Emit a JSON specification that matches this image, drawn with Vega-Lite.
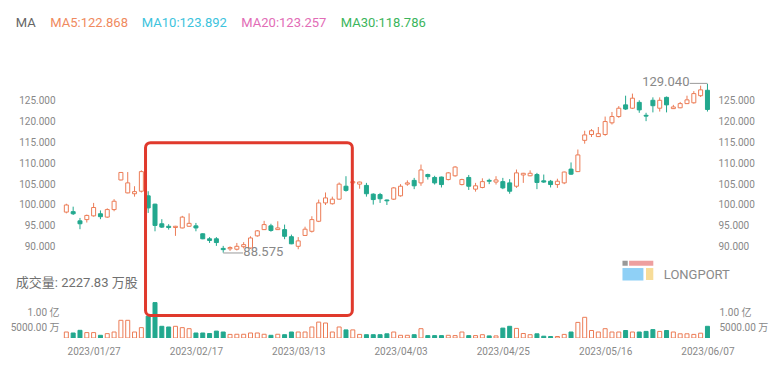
{
"$schema": "https://vega.github.io/schema/vega-lite/v6.json",
"width": 655, "height": 298,
"autosize": {"type": "none"},
"padding": {"left": 61, "top": 40, "right": 64, "bottom": 31},
"background": "#ffffff",
"config": {"view": {"stroke": null}, "font": "Roboto, Noto Sans CJK SC", "axis": {"labelColor": "#888888", "labelFontSize": 10, "grid": false, "domain": false, "ticks": false, "tickSize": 0, "title": null, "labelOverlap": false, "labelFlush": false}},
"datasets": {"k": [
{"i":0,"d":"2023-01-23","o":98.3,"h":100.3,"l":98.0,"c":100.0,"v":20000000},
{"i":1,"d":"2023-01-24","o":98.4,"h":99.6,"l":97.6,"c":97.9,"v":16700000},
{"i":2,"d":"2023-01-25","o":96.2,"h":96.9,"l":94.2,"c":95.5,"v":25600000},
{"i":3,"d":"2023-01-26","o":96.5,"h":97.7,"l":95.8,"c":97.5,"v":18000000},
{"i":4,"d":"2023-01-27","o":97.4,"h":100.5,"l":97.2,"c":99.4,"v":18000000},
{"i":5,"d":"2023-01-30","o":97.9,"h":98.7,"l":96.6,"c":97.2,"v":9000000},
{"i":6,"d":"2023-01-31","o":97.1,"h":99.2,"l":96.9,"c":98.9,"v":14500000},
{"i":7,"d":"2023-02-01","o":98.9,"h":101.4,"l":98.5,"c":100.9,"v":20000000},
{"i":8,"d":"2023-02-02","o":106.0,"h":107.9,"l":105.9,"c":107.8,"v":59000000},
{"i":9,"d":"2023-02-03","o":102.9,"h":107.9,"l":102.8,"c":105.3,"v":59000000},
{"i":10,"d":"2023-02-06","o":102.7,"h":104.5,"l":102.0,"c":103.2,"v":20000000},
{"i":11,"d":"2023-02-07","o":103.3,"h":108.3,"l":103.0,"c":108.0,"v":34500000},
{"i":12,"d":"2023-02-08","o":102.2,"h":103.3,"l":98.1,"c":99.3,"v":73000000},
{"i":13,"d":"2023-02-09","o":100.2,"h":100.3,"l":93.7,"c":95.1,"v":118000000},
{"i":14,"d":"2023-02-10","o":95.5,"h":96.6,"l":94.5,"c":94.7,"v":39000000},
{"i":15,"d":"2023-02-13","o":94.9,"h":95.4,"l":94.1,"c":94.6,"v":36700000},
{"i":16,"d":"2023-02-14","o":94.6,"h":95.0,"l":92.6,"c":94.9,"v":39000000},
{"i":17,"d":"2023-02-15","o":94.5,"h":97.4,"l":94.4,"c":97.1,"v":34500000},
{"i":18,"d":"2023-02-16","o":94.9,"h":98.0,"l":94.8,"c":95.6,"v":31000000},
{"i":19,"d":"2023-02-17","o":95.0,"h":95.7,"l":93.7,"c":94.5,"v":16700000},
{"i":20,"d":"2023-02-21","o":93.1,"h":93.2,"l":91.8,"c":91.9,"v":16700000},
{"i":21,"d":"2023-02-22","o":91.9,"h":92.3,"l":90.9,"c":91.5,"v":15000000},
{"i":22,"d":"2023-02-23","o":91.9,"h":92.3,"l":90.2,"c":91.0,"v":23000000},
{"i":23,"d":"2023-02-24","o":89.6,"h":90.2,"l":88.575,"c":89.3,"v":20000000},
{"i":24,"d":"2023-02-27","o":89.5,"h":90.1,"l":89.0,"c":89.8,"v":12000000},
{"i":25,"d":"2023-02-28","o":89.4,"h":90.9,"l":89.1,"c":90.1,"v":12500000},
{"i":26,"d":"2023-03-01","o":90.0,"h":91.1,"l":89.6,"c":90.5,"v":12500000},
{"i":27,"d":"2023-03-02","o":89.7,"h":92.5,"l":89.5,"c":92.1,"v":16700000},
{"i":28,"d":"2023-03-03","o":92.6,"h":94.0,"l":92.4,"c":93.8,"v":16700000},
{"i":29,"d":"2023-03-06","o":94.1,"h":96.2,"l":94.0,"c":95.3,"v":12500000},
{"i":30,"d":"2023-03-07","o":95.0,"h":95.5,"l":93.6,"c":93.9,"v":9000000},
{"i":31,"d":"2023-03-08","o":94.1,"h":96.1,"l":94.0,"c":94.5,"v":12500000},
{"i":32,"d":"2023-03-09","o":94.1,"h":95.3,"l":91.8,"c":92.5,"v":11000000},
{"i":33,"d":"2023-03-10","o":92.4,"h":92.9,"l":90.6,"c":90.7,"v":20000000},
{"i":34,"d":"2023-03-13","o":90.1,"h":92.3,"l":89.4,"c":91.4,"v":20000000},
{"i":35,"d":"2023-03-14","o":92.7,"h":94.8,"l":92.6,"c":94.2,"v":20000000},
{"i":36,"d":"2023-03-15","o":93.7,"h":97.3,"l":93.4,"c":96.5,"v":36700000},
{"i":37,"d":"2023-03-16","o":96.1,"h":101.3,"l":95.9,"c":100.5,"v":53000000},
{"i":38,"d":"2023-03-17","o":100.5,"h":103.0,"l":100.0,"c":101.7,"v":50000000},
{"i":39,"d":"2023-03-20","o":100.3,"h":102.0,"l":100.1,"c":101.4,"v":20000000},
{"i":40,"d":"2023-03-21","o":101.4,"h":105.4,"l":101.3,"c":105.0,"v":36700000},
{"i":41,"d":"2023-03-22","o":104.5,"h":106.9,"l":103.2,"c":103.5,"v":27000000},
{"i":42,"d":"2023-03-23","o":105.3,"h":106.0,"l":105.0,"c":105.6,"v":27000000},
{"i":43,"d":"2023-03-24","o":105.0,"h":105.6,"l":103.9,"c":105.5,"v":12000000},
{"i":44,"d":"2023-03-27","o":104.7,"h":105.3,"l":102.0,"c":102.7,"v":11000000},
{"i":45,"d":"2023-03-28","o":102.6,"h":102.8,"l":100.1,"c":101.3,"v":11000000},
{"i":46,"d":"2023-03-29","o":102.5,"h":102.9,"l":100.5,"c":101.5,"v":11000000},
{"i":47,"d":"2023-03-30","o":101.2,"h":101.3,"l":100.0,"c":101.0,"v":14000000},
{"i":48,"d":"2023-03-31","o":101.4,"h":104.3,"l":101.2,"c":104.1,"v":20000000},
{"i":49,"d":"2023-04-03","o":102.2,"h":105.0,"l":102.0,"c":104.5,"v":9000000},
{"i":50,"d":"2023-04-04","o":105.0,"h":105.9,"l":104.6,"c":105.3,"v":9000000},
{"i":51,"d":"2023-04-05","o":105.9,"h":106.5,"l":103.8,"c":104.6,"v":11000000},
{"i":52,"d":"2023-04-06","o":105.3,"h":109.7,"l":104.6,"c":108.4,"v":31000000},
{"i":53,"d":"2023-04-10","o":107.3,"h":107.5,"l":106.1,"c":106.8,"v":8000000},
{"i":54,"d":"2023-04-11","o":106.6,"h":107.0,"l":104.9,"c":105.3,"v":8000000},
{"i":55,"d":"2023-04-12","o":106.7,"h":106.8,"l":104.2,"c":104.9,"v":8000000},
{"i":56,"d":"2023-04-13","o":106.1,"h":107.9,"l":105.9,"c":107.7,"v":9000000},
{"i":57,"d":"2023-04-14","o":107.0,"h":109.3,"l":106.8,"c":109.1,"v":8000000},
{"i":58,"d":"2023-04-17","o":104.9,"h":106.3,"l":104.7,"c":106.1,"v":20000000},
{"i":59,"d":"2023-04-18","o":106.6,"h":107.2,"l":103.6,"c":104.5,"v":8000000},
{"i":60,"d":"2023-04-19","o":103.8,"h":105.3,"l":103.2,"c":104.6,"v":8000000},
{"i":61,"d":"2023-04-20","o":104.2,"h":106.4,"l":104.0,"c":105.6,"v":11000000},
{"i":62,"d":"2023-04-21","o":105.9,"h":106.3,"l":105.0,"c":105.7,"v":7000000},
{"i":63,"d":"2023-04-24","o":105.5,"h":106.9,"l":104.9,"c":106.0,"v":7000000},
{"i":64,"d":"2023-04-25","o":105.6,"h":106.5,"l":103.8,"c":104.1,"v":33000000},
{"i":65,"d":"2023-04-26","o":105.3,"h":106.2,"l":102.7,"c":103.3,"v":39000000},
{"i":66,"d":"2023-04-27","o":104.5,"h":108.5,"l":104.1,"c":107.7,"v":32000000},
{"i":67,"d":"2023-04-28","o":107.2,"h":107.7,"l":105.3,"c":107.6,"v":15000000},
{"i":68,"d":"2023-05-01","o":107.0,"h":108.3,"l":106.9,"c":107.6,"v":11000000},
{"i":69,"d":"2023-05-02","o":107.3,"h":107.7,"l":103.8,"c":105.4,"v":14000000},
{"i":70,"d":"2023-05-03","o":105.8,"h":107.3,"l":105.3,"c":105.5,"v":6000000},
{"i":71,"d":"2023-05-04","o":105.7,"h":106.0,"l":104.2,"c":104.9,"v":5000000},
{"i":72,"d":"2023-05-05","o":104.9,"h":106.3,"l":104.1,"c":105.7,"v":5000000},
{"i":73,"d":"2023-05-08","o":105.3,"h":108.0,"l":105.0,"c":107.9,"v":12000000},
{"i":74,"d":"2023-05-09","o":108.6,"h":110.2,"l":107.2,"c":107.4,"v":20000000},
{"i":75,"d":"2023-05-10","o":108.0,"h":113.3,"l":107.9,"c":112.0,"v":52000000},
{"i":76,"d":"2023-05-11","o":115.5,"h":117.8,"l":114.7,"c":116.8,"v":69000000},
{"i":77,"d":"2023-05-12","o":116.9,"h":118.2,"l":116.3,"c":117.8,"v":25000000},
{"i":78,"d":"2023-05-15","o":116.4,"h":118.7,"l":116.3,"c":117.1,"v":20000000},
{"i":79,"d":"2023-05-16","o":116.9,"h":121.2,"l":116.6,"c":120.0,"v":31000000},
{"i":80,"d":"2023-05-17","o":119.7,"h":122.3,"l":119.3,"c":121.2,"v":20000000},
{"i":81,"d":"2023-05-18","o":121.2,"h":123.7,"l":120.9,"c":123.2,"v":20000000},
{"i":82,"d":"2023-05-19","o":124.0,"h":126.2,"l":122.8,"c":123.0,"v":25000000},
{"i":83,"d":"2023-05-22","o":123.2,"h":126.7,"l":123.0,"c":125.6,"v":20000000},
{"i":84,"d":"2023-05-23","o":124.6,"h":125.1,"l":122.1,"c":122.8,"v":20000000},
{"i":85,"d":"2023-05-24","o":121.5,"h":122.1,"l":120.1,"c":121.3,"v":22000000},
{"i":86,"d":"2023-05-25","o":125.1,"h":125.8,"l":122.2,"c":123.8,"v":28000000},
{"i":87,"d":"2023-05-26","o":123.2,"h":125.8,"l":122.4,"c":125.1,"v":22000000},
{"i":88,"d":"2023-05-30","o":125.8,"h":126.0,"l":122.2,"c":124.0,"v":25000000},
{"i":89,"d":"2023-05-31","o":123.1,"h":124.0,"l":123.0,"c":123.5,"v":20000000},
{"i":90,"d":"2023-06-01","o":123.3,"h":124.7,"l":123.2,"c":124.3,"v":14000000},
{"i":91,"d":"2023-06-02","o":124.3,"h":126.2,"l":124.2,"c":125.2,"v":14000000},
{"i":92,"d":"2023-06-05","o":124.5,"h":127.3,"l":124.3,"c":126.7,"v":12000000},
{"i":93,"d":"2023-06-06","o":126.2,"h":128.6,"l":125.9,"c":127.6,"v":16000000},
{"i":94,"d":"2023-06-07","o":127.5,"h":129.04,"l":122.4,"c":122.9,"v":39000000}
]},
"data": {"name": "k"},
"layer": [
{"mark": {"type": "rule", "clip": true, "strokeWidth": 1},
 "encoding": {
  "x": {"field": "i", "type": "quantitative", "scale": {"domain": [-0.05, 94.52], "nice": false, "zero": false},
        "axis": {"orient": "bottom", "values": [4, 19, 34, 49, 64, 79, 94], "labelPadding": 8, "labelColor": "#888888", "labelFontSize": 10,
                 "labelExpr": "datum.value == 4 ? '2023/01/27' : datum.value == 19 ? '2023/02/17' : datum.value == 34 ? '2023/03/13' : datum.value == 49 ? '2023/04/03' : datum.value == 64 ? '2023/04/25' : datum.value == 79 ? '2023/05/16' : '2023/06/07'"}},
  "y": {"field": "l", "type": "quantitative", "scale": {"domain": [68.12, 139.55], "nice": false, "zero": false},
        "axis": {"orient": "left", "values": [90, 95, 100, 105, 110, 115, 120, 125], "format": ".3f", "labelPadding": 6}},
  "y2": {"field": "h"},
  "color": {"condition": {"test": "datum.c >= datum.o", "value": "#ec7c56"}, "value": "#22a88e"}}},
{"mark": {"type": "bar", "clip": true, "size": 4, "strokeWidth": 1},
 "encoding": {
  "x": {"field": "i", "type": "quantitative", "scale": {"domain": [-0.05, 94.52], "nice": false, "zero": false}},
  "y": {"field": "o", "type": "quantitative", "scale": {"domain": [68.12, 139.55], "nice": false, "zero": false},
        "axis": {"orient": "right", "values": [90, 95, 100, 105, 110, 115, 120, 125], "format": ".3f", "labelPadding": 2}},
  "y2": {"field": "c"},
  "fill": {"condition": {"test": "datum.c >= datum.o", "value": "#ffffff"}, "value": "#22a88e"},
  "stroke": {"condition": {"test": "datum.c >= datum.o", "value": "#ec7c56"}, "value": "#22a88e"}}},
{"mark": {"type": "bar", "clip": true, "size": 4, "strokeWidth": 1},
 "encoding": {
  "x": {"field": "i", "type": "quantitative", "scale": {"domain": [-0.05, 94.52], "nice": false, "zero": false}},
  "y": {"field": "v", "type": "quantitative", "scale": {"domain": [0, 993333333], "nice": false},
        "axis": {"orient": "left", "values": [50000000, 100000000], "labelOffset": 4, "labelPadding": 2, "labelExpr": "datum.value >= 100000000 ? '1.00 亿' : '5000.00 万'"}},
  "fill": {"condition": {"test": "datum.c >= datum.o", "value": "#ffffff"}, "value": "#22a88e"},
  "stroke": {"condition": {"test": "datum.c >= datum.o", "value": "#ec7c56"}, "value": "#22a88e"}}},
{"mark": {"type": "point", "opacity": 0},
 "encoding": {
  "x": {"field": "i", "type": "quantitative", "scale": {"domain": [-0.05, 94.52], "nice": false, "zero": false}},
  "y": {"field": "v", "type": "quantitative", "scale": {"domain": [0, 993333333], "nice": false},
        "axis": {"orient": "right", "values": [50000000, 100000000], "labelOffset": 4, "labelPadding": 3, "labelExpr": "datum.value >= 100000000 ? '1.00 亿' : '5000.00 万'"}}}},
{"data": {"values": [{}]},
 "mark": {"type": "rule", "color": "#9a9a9a", "strokeWidth": 1},
 "encoding": {
  "x": {"datum": 23, "type": "quantitative"},
  "x2": {"datum": 25.9},
  "y": {"datum": 88.5, "type": "quantitative", "scale": {"domain": [68.12, 139.55], "nice": false, "zero": false}, "axis": null}}},
{"data": {"values": [{}]},
 "mark": {"type": "text", "text": "88.575", "align": "left", "baseline": "middle", "fontSize": 13, "color": "#888888"},
 "encoding": {
  "x": {"datum": 25.95, "type": "quantitative"},
  "y": {"datum": 88.7, "type": "quantitative", "scale": {"domain": [68.12, 139.55], "nice": false, "zero": false}, "axis": null}}},
{"data": {"values": [{}]},
 "mark": {"type": "rule", "color": "#9a9a9a", "strokeWidth": 1},
 "encoding": {
  "x": {"datum": 91.4, "type": "quantitative"},
  "x2": {"datum": 94},
  "y": {"datum": 129.15, "type": "quantitative", "scale": {"domain": [68.12, 139.55], "nice": false, "zero": false}, "axis": null}}},
{"data": {"values": [{}]},
 "mark": {"type": "text", "text": "129.040", "align": "right", "baseline": "middle", "fontSize": 13, "color": "#888888"},
 "encoding": {
  "x": {"datum": 91.36, "type": "quantitative"},
  "y": {"datum": 129.55, "type": "quantitative", "scale": {"domain": [68.12, 139.55], "nice": false, "zero": false}, "axis": null}}},
{"data": {"values": [{}]},
 "mark": {"type": "rect", "fill": "#999999"},
 "encoding": {
  "x": {"datum": 81.54, "type": "quantitative"},
  "x2": {"datum": 82.31},
  "y": {"datum": 86.64, "type": "quantitative", "scale": {"domain": [68.12, 139.55], "nice": false, "zero": false}, "axis": null},
  "y2": {"datum": 85.44}}},
{"data": {"values": [{}]},
 "mark": {"type": "rect", "fill": "#ee9f9f"},
 "encoding": {
  "x": {"datum": 82.51, "type": "quantitative"},
  "x2": {"datum": 86.06},
  "y": {"datum": 86.64, "type": "quantitative", "scale": {"domain": [68.12, 139.55], "nice": false, "zero": false}, "axis": null},
  "y2": {"datum": 85.44}}},
{"data": {"values": [{}]},
 "mark": {"type": "rect", "fill": "#8fd0f6"},
 "encoding": {
  "x": {"datum": 81.54, "type": "quantitative"},
  "x2": {"datum": 84.61},
  "y": {"datum": 84.89, "type": "quantitative", "scale": {"domain": [68.12, 139.55], "nice": false, "zero": false}, "axis": null},
  "y2": {"datum": 81.9}}},
{"data": {"values": [{}]},
 "mark": {"type": "rect", "fill": "#f7dc98"},
 "encoding": {
  "x": {"datum": 84.99, "type": "quantitative"},
  "x2": {"datum": 86.06},
  "y": {"datum": 84.89, "type": "quantitative", "scale": {"domain": [68.12, 139.55], "nice": false, "zero": false}, "axis": null},
  "y2": {"datum": 82.02}}},
{"data": {"values": [{}]},
 "mark": {"type": "text", "text": "LONGPORT", "align": "left", "baseline": "middle", "fontSize": 13, "color": "#8a8a8a"},
 "encoding": {
  "x": {"datum": 87.6, "type": "quantitative"},
  "y": {"datum": 83.22, "type": "quantitative", "scale": {"domain": [68.12, 139.55], "nice": false, "zero": false}, "axis": null}}},
{"data": {"values": [{}]},
 "mark": {"type": "text", "text": "成交量: 2227.83 万股", "align": "left", "baseline": "middle", "fontSize": 13, "color": "#707070"},
 "encoding": {
  "x": {"datum": -7.41, "type": "quantitative"},
  "y": {"datum": 81.23, "type": "quantitative", "scale": {"domain": [68.12, 139.55], "nice": false, "zero": false}, "axis": null}}},
{"data": {"values": [{}]},
 "mark": {"type": "text", "text": "MA", "align": "left", "baseline": "middle", "fontSize": 13, "color": "#666666"},
 "encoding": {
  "x": {"datum": -7.41, "type": "quantitative"},
  "y": {"datum": 143.7, "type": "quantitative", "scale": {"domain": [68.12, 139.55], "nice": false, "zero": false}, "axis": null}}},
{"data": {"values": [{}]},
 "mark": {"type": "text", "text": "MA5:122.868", "align": "left", "baseline": "middle", "fontSize": 13, "color": "#f08a5e"},
 "encoding": {
  "x": {"datum": -2.35, "type": "quantitative"},
  "y": {"datum": 143.7, "type": "quantitative", "scale": {"domain": [68.12, 139.55], "nice": false, "zero": false}, "axis": null}}},
{"data": {"values": [{}]},
 "mark": {"type": "text", "text": "MA10:123.892", "align": "left", "baseline": "middle", "fontSize": 13, "color": "#3cc3dd"},
 "encoding": {
  "x": {"datum": 11.07, "type": "quantitative"},
  "y": {"datum": 143.7, "type": "quantitative", "scale": {"domain": [68.12, 139.55], "nice": false, "zero": false}, "axis": null}}},
{"data": {"values": [{}]},
 "mark": {"type": "text", "text": "MA20:123.257", "align": "left", "baseline": "middle", "fontSize": 13, "color": "#e26cb6"},
 "encoding": {
  "x": {"datum": 25.66, "type": "quantitative"},
  "y": {"datum": 143.7, "type": "quantitative", "scale": {"domain": [68.12, 139.55], "nice": false, "zero": false}, "axis": null}}},
{"data": {"values": [{}]},
 "mark": {"type": "text", "text": "MA30:118.786", "align": "left", "baseline": "middle", "fontSize": 13, "color": "#3bb55c"},
 "encoding": {
  "x": {"datum": 40.24, "type": "quantitative"},
  "y": {"datum": 143.7, "type": "quantitative", "scale": {"domain": [68.12, 139.55], "nice": false, "zero": false}, "axis": null}}},
{"data": {"values": [{}]},
 "mark": {"type": "rect", "filled": false, "color": "#e0392c", "strokeWidth": 3, "cornerRadius": 5},
 "encoding": {
  "x": {"datum": 11.61, "type": "quantitative"},
  "x2": {"datum": 41.93},
  "y": {"datum": 114.93, "type": "quantitative", "scale": {"domain": [68.12, 139.55], "nice": false, "zero": false}, "axis": null},
  "y2": {"datum": 73.51}}}
],
"resolve": {"scale": {"y": "independent"}, "axis": {"y": "independent"}}
}
